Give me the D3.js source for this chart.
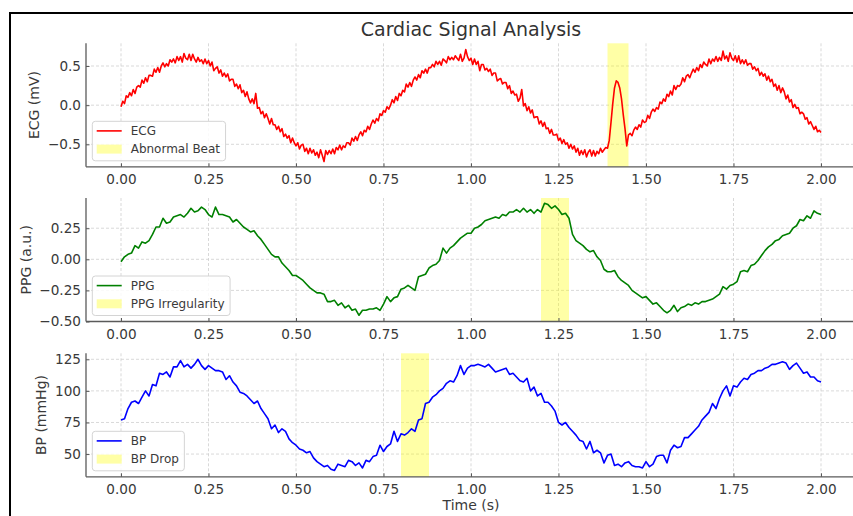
<!DOCTYPE html>
<html>
<head>
<meta charset="utf-8">
<script src="https://cdn.jsdelivr.net/npm/d3@7"></script>
<style>
  body { margin: 0; background: #fff; }
  svg { display: block; }
  text { font-family: "DejaVu Sans", sans-serif; }
</style>
</head>
<body>
<svg id="chart" width="853" height="516"></svg>
<script>
// ---- Data -------------------------------------------------------------
const ecgStep = 0.005;   // seconds between ECG samples
const ppgStep = 0.01;    // seconds between PPG samples
const bpStep = 0.01;     // seconds between BP samples

const ecgValues = [
  -0.02, 0.05, 0.02, 0.12, 0.10, 0.16, 0.12, 0.20, 0.15, 0.23,
  0.25, 0.23, 0.32, 0.28, 0.35, 0.30, 0.38, 0.38, 0.37, 0.46,
  0.42, 0.48, 0.42, 0.50, 0.54, 0.49, 0.53, 0.50, 0.58, 0.55,
  0.59, 0.54, 0.62, 0.57, 0.62, 0.55, 0.66, 0.60, 0.58, 0.65,
  0.57, 0.65, 0.59, 0.55, 0.61, 0.56, 0.58, 0.53, 0.59, 0.53,
  0.57, 0.50, 0.55, 0.44, 0.47, 0.49, 0.41, 0.45, 0.37, 0.41,
  0.36, 0.40, 0.31, 0.33, 0.33, 0.24, 0.27, 0.21, 0.26, 0.16,
  0.19, 0.11, 0.17, 0.08, 0.03, 0.08, 0.02, 0.15, -0.04, -0.03,
  -0.11, -0.08, -0.16, -0.11, -0.17, -0.24, -0.17, -0.25, -0.25, -0.31,
  -0.27, -0.34, -0.30, -0.40, -0.37, -0.42, -0.39, -0.48, -0.42, -0.48,
  -0.52, -0.48, -0.56, -0.51, -0.50, -0.59, -0.55, -0.62, -0.55, -0.61,
  -0.57, -0.64, -0.60, -0.67, -0.57, -0.64, -0.72, -0.58, -0.63, -0.58,
  -0.62, -0.56, -0.62, -0.54, -0.57, -0.51, -0.57, -0.52, -0.54, -0.48,
  -0.48, -0.51, -0.42, -0.46, -0.40, -0.45, -0.38, -0.34, -0.39, -0.32,
  -0.34, -0.27, -0.31, -0.24, -0.19, -0.23, -0.17, -0.20, -0.11, -0.13,
  -0.07, -0.09, -0.02, -0.05, 0.00, 0.07, 0.03, 0.11, 0.06, 0.15,
  0.12, 0.19, 0.17, 0.27, 0.23, 0.29, 0.24, 0.32, 0.36, 0.32,
  0.39, 0.35, 0.44, 0.41, 0.46, 0.41, 0.48, 0.48, 0.52, 0.49,
  0.56, 0.52, 0.56, 0.51, 0.59, 0.57, 0.54, 0.62, 0.58, 0.61,
  0.58, 0.63, 0.60, 0.57, 0.65, 0.56, 0.60, 0.71, 0.62, 0.57,
  0.60, 0.52, 0.59, 0.52, 0.56, 0.44, 0.52, 0.52, 0.45, 0.47,
  0.43, 0.46, 0.38, 0.41, 0.41, 0.31, 0.33, 0.34, 0.27, 0.29,
  0.29, 0.21, 0.25, 0.15, 0.18, 0.13, 0.14, 0.05, 0.09, 0.20,
  -0.01, 0.02, -0.07, -0.02, -0.10, -0.06, -0.16, -0.15, -0.15, -0.24,
  -0.20, -0.27, -0.22, -0.30, -0.29, -0.36, -0.31, -0.38, -0.38, -0.37,
  -0.45, -0.42, -0.49, -0.44, -0.50, -0.48, -0.55, -0.50, -0.56, -0.52,
  -0.60, -0.55, -0.64, -0.58, -0.63, -0.57, -0.66, -0.60, -0.57, -0.65,
  -0.58, -0.65, -0.59, -0.62, -0.55, -0.60, -0.57, -0.54, -0.55, -0.45,
  -0.22, 0.02, 0.22, 0.31, 0.29, 0.22, 0.08, -0.12, -0.30, -0.52,
  -0.38, -0.36, -0.39, -0.32, -0.28, -0.31, -0.25, -0.28, -0.19, -0.22,
  -0.21, -0.13, -0.17, -0.09, -0.05, -0.08, -0.03, -0.05, 0.04, 0.02,
  0.08, 0.05, 0.14, 0.11, 0.18, 0.13, 0.25, 0.20, 0.25, 0.24,
  0.27, 0.35, 0.30, 0.37, 0.39, 0.35, 0.41, 0.46, 0.42, 0.48,
  0.44, 0.52, 0.48, 0.55, 0.52, 0.50, 0.59, 0.53, 0.59, 0.56,
  0.62, 0.56, 0.61, 0.57, 0.69, 0.59, 0.63, 0.56, 0.67, 0.60,
  0.57, 0.63, 0.55, 0.63, 0.53, 0.58, 0.53, 0.58, 0.51, 0.53,
  0.53, 0.46, 0.49, 0.44, 0.47, 0.38, 0.42, 0.37, 0.40, 0.32,
  0.37, 0.30, 0.33, 0.24, 0.27, 0.19, 0.25, 0.16, 0.22, 0.17,
  0.08, 0.13, 0.04, 0.07, -0.03, 0.01, -0.04, -0.03, -0.11, -0.09,
  -0.11, -0.18, -0.16, -0.24, -0.21, -0.26, -0.31, -0.27, -0.34, -0.32,
  -0.35
];

const ppgValues = [
  -0.02, 0.02, 0.04, 0.05, 0.11, 0.09, 0.14, 0.13, 0.15, 0.20,
  0.26, 0.26, 0.33, 0.29, 0.30, 0.34, 0.35, 0.36, 0.34, 0.37,
  0.41, 0.38, 0.39, 0.42, 0.40, 0.36, 0.34, 0.42, 0.36, 0.36,
  0.35, 0.34, 0.30, 0.32, 0.29, 0.26, 0.24, 0.22, 0.23, 0.19,
  0.16, 0.12, 0.08, 0.04, 0.02, 0.02, -0.03, -0.06, -0.09, -0.13,
  -0.13, -0.15, -0.17, -0.20, -0.23, -0.25, -0.27, -0.27, -0.28, -0.34,
  -0.34, -0.33, -0.37, -0.35, -0.39, -0.37, -0.41, -0.40, -0.45, -0.41,
  -0.41, -0.40, -0.40, -0.39, -0.41, -0.36, -0.30, -0.34, -0.31, -0.30,
  -0.24, -0.23, -0.21, -0.23, -0.25, -0.14, -0.13, -0.12, -0.07, -0.05,
  -0.04, -0.01, 0.09, 0.05, 0.09, 0.11, 0.14, 0.17, 0.19, 0.21,
  0.21, 0.25, 0.26, 0.28, 0.31, 0.32, 0.33, 0.34, 0.33, 0.36,
  0.35, 0.38, 0.38, 0.40, 0.38, 0.41, 0.38, 0.40, 0.37, 0.40,
  0.38, 0.45, 0.44, 0.41, 0.43, 0.40, 0.36, 0.37, 0.33, 0.20,
  0.15, 0.13, 0.11, 0.08, 0.06, 0.07, 0.02, -0.01, -0.08, -0.10,
  -0.10, -0.09, -0.14, -0.17, -0.19, -0.21, -0.25, -0.27, -0.29, -0.31,
  -0.30, -0.33, -0.36, -0.35, -0.38, -0.41, -0.43, -0.41, -0.37, -0.42,
  -0.39, -0.38, -0.36, -0.37, -0.35, -0.36, -0.34, -0.34, -0.33, -0.32,
  -0.30, -0.28, -0.22, -0.24, -0.21, -0.20, -0.18, -0.10, -0.09, -0.10,
  -0.05, -0.04, -0.01, 0.03, 0.07, 0.10, 0.12, 0.15, 0.16, 0.19,
  0.20, 0.21, 0.25, 0.27, 0.32, 0.31, 0.35, 0.33, 0.39, 0.37,
  0.36
];

const bpValues = [
  77, 78, 86, 91, 92, 90, 95, 100, 96, 105,
  104, 114, 113, 115, 111, 119, 119, 124, 119, 121,
  118, 121, 125, 120, 117, 120, 118, 116, 116, 115,
  109, 112, 107, 104, 99, 98, 96, 93, 90, 92,
  86, 82, 78, 70, 73, 67, 70, 68, 62, 59,
  57, 54, 53, 51, 52, 47, 44, 42, 40, 41,
  38, 37, 42, 41, 40, 45, 44, 41, 43, 39,
  45, 44, 48, 49, 57, 52, 56, 58, 68, 60,
  66, 65, 67, 70, 68, 77, 78, 90, 91, 95,
  97, 100, 102, 106, 108, 107, 112, 120, 113, 118,
  120, 120, 121, 120, 119, 121, 118, 115, 116, 117,
  118, 113, 114, 111, 108, 107, 110, 100, 103, 96,
  98, 91, 91, 88, 84, 75, 73, 75, 71, 68,
  65, 61, 60, 54, 60, 51, 53, 51, 43, 49,
  50, 41, 42, 40, 43, 44, 41, 40, 40, 39,
  44, 40, 42, 48, 49, 49, 43, 53, 57, 55,
  56, 63, 63, 66, 69, 72, 77, 80, 83, 90,
  86, 94, 100, 104, 96, 104, 103, 107, 110, 109,
  113, 114, 116, 116, 118, 119, 121, 121, 122, 123,
  122, 117, 120, 122, 118, 114, 115, 111, 111, 108,
  107
];

const timeTicks = [0, 0.25, 0.5, 0.75, 1, 1.25, 1.5, 1.75, 2];
const ecgTicks = [-0.5, 0, 0.5];
const ppgTicks = [-0.5, -0.25, 0, 0.25];
const bpTicks = [50, 75, 100, 125];

const ecgSpan = [1.39, 1.45];
const ppgSpan = [1.2, 1.28];
const bpSpan = [0.8, 0.88];

// ---- Layout -------------------------------------------------------------
const svg = d3.select("#chart");
const W = 853, H = 516;
const plotLeft = 86, plotRight = 856;
const panelHeight = 123.5;

svg.append("rect").attr("width", W).attr("height", H).attr("fill", "#fff");

const x = d3.scaleLinear().domain([-0.1, 2.1]).range([plotLeft, plotRight]);

const minus = s => s.replace("-", "\u2212");

const panels = [
  { top: 43.3, values: ecgValues, step: ecgStep, color: "#ff0000",
    domain: [-0.787, 0.79], ticks: ecgTicks, fmt: d => minus(d3.format(".1f")(d)),
    ylabel: "ECG (mV)", name: "ECG", span: ecgSpan, spanName: "Abnormal Beat" },
  { top: 198, values: ppgValues, step: ppgStep, color: "#008000",
    domain: [-0.5, 0.493], ticks: ppgTicks, fmt: d => minus(d3.format(".2f")(d)),
    ylabel: "PPG (a.u.)", name: "PPG", span: ppgSpan, spanName: "PPG Irregularity" },
  { top: 353.3, values: bpValues, step: bpStep, color: "#0000ff",
    domain: [32, 129.75], ticks: bpTicks, fmt: d => d3.format("d")(d),
    ylabel: "BP (mmHg)", name: "BP", span: bpSpan, spanName: "BP Drop" }
];

const tickColor = "#3a3a3a";
const spineColor = "#5a5a5a";
const gridColor = "#cfcfcf";

panels.forEach((p, idx) => {
  const bottom = p.top + panelHeight;
  const y = d3.scaleLinear().domain(p.domain).range([bottom, p.top]);
  const g = svg.append("g");

  // grid
  g.selectAll(".gx").data(timeTicks).join("line")
    .attr("x1", d => x(d)).attr("x2", d => x(d))
    .attr("y1", p.top).attr("y2", bottom)
    .attr("stroke", gridColor).attr("stroke-width", 0.8)
    .attr("stroke-dasharray", "3,2");
  g.selectAll(".gy").data(p.ticks).join("line")
    .attr("x1", plotLeft).attr("x2", plotRight)
    .attr("y1", d => y(d)).attr("y2", d => y(d))
    .attr("stroke", gridColor).attr("stroke-width", 0.8)
    .attr("stroke-dasharray", "3,2");

  // highlighted interval
  g.append("rect")
    .attr("x", x(p.span[0])).attr("width", x(p.span[1]) - x(p.span[0]))
    .attr("y", p.top).attr("height", panelHeight)
    .attr("fill", "#ffff00").attr("fill-opacity", 0.35);

  // signal
  const line = d3.line()
    .x((d, i) => x(i * p.step))
    .y(d => y(d));
  g.append("path").datum(p.values)
    .attr("d", line)
    .attr("fill", "none")
    .attr("stroke", p.color)
    .attr("stroke-width", 1.6)
    .attr("stroke-linejoin", "round");

  // axes with inward ticks
  const xAxis = d3.axisBottom(x).tickValues(timeTicks)
    .tickFormat(d => d3.format(".2f")(d))
    .tickSizeInner(-3.5).tickSizeOuter(0).tickPadding(7.5);
  const xa = g.append("g").attr("transform", `translate(0,${bottom})`).call(xAxis);
  const yAxis = d3.axisLeft(y).tickValues(p.ticks).tickFormat(p.fmt)
    .tickSizeInner(-3.5).tickSizeOuter(0).tickPadding(5);
  const ya = g.append("g").attr("transform", `translate(${plotLeft},0)`).call(yAxis);

  [xa, ya].forEach(a => {
    a.select(".domain").attr("stroke", spineColor).attr("stroke-width", 1.3);
    a.selectAll(".tick line").attr("stroke", spineColor).attr("stroke-width", 1);
    a.selectAll(".tick text").attr("fill", tickColor)
      .style("font-family", "DejaVu Sans").style("font-size", "13.6px");
  });
  ya.select(".domain").attr("d", `M0,${bottom}V${p.top}`);
  xa.select(".domain").attr("d", `M${plotLeft},0H${plotRight}`);

  // y label placed left of the widest tick label
  let minLeft = plotLeft;
  ya.selectAll(".tick text").each(function () {
    const b = this.getBBox();
    const m = this.parentNode.transform.baseVal.consolidate();
    const tx = m ? m.matrix.e : 0;
    minLeft = Math.min(minLeft, plotLeft + tx + b.x);
  });
  g.append("text")
    .attr("transform", `translate(${minLeft - 13.5},${p.top + panelHeight / 2}) rotate(-90)`)
    .attr("text-anchor", "middle")
    .attr("dy", "0.35em")
    .attr("fill", tickColor)
    .style("font-size", "14px")
    .text(p.ylabel);

  // legend
  const lg = g.append("g");
  const boxX = plotLeft + 6.3, boxH = 39.5, boxY = bottom - 6 - boxH;
  const box = lg.append("rect")
    .attr("x", boxX).attr("y", boxY).attr("height", boxH)
    .attr("rx", 3).attr("fill", "#fff").attr("fill-opacity", 0.85)
    .attr("stroke", "#d4d4d4").attr("stroke-width", 1);
  lg.append("line")
    .attr("x1", boxX + 4.4).attr("x2", boxX + 29.4)
    .attr("y1", boxY + 9.6).attr("y2", boxY + 9.6)
    .attr("stroke", p.color).attr("stroke-width", 1.6);
  lg.append("rect")
    .attr("x", boxX + 4.4).attr("width", 25)
    .attr("y", boxY + 23.3).attr("height", 9)
    .attr("fill", "#ffff00").attr("fill-opacity", 0.35);
  const t1 = lg.append("text").attr("x", boxX + 38.4).attr("y", boxY + 9.6)
    .attr("dy", "0.36em").attr("fill", tickColor).style("font-size", "12px").text(p.name);
  const t2 = lg.append("text").attr("x", boxX + 38.4).attr("y", boxY + 27.8)
    .attr("dy", "0.36em").attr("fill", tickColor).style("font-size", "12px").text(p.spanName);
  const tw = Math.max(t1.node().getComputedTextLength(), t2.node().getComputedTextLength());
  box.attr("width", 38.4 + tw + 5.5);
});

// title and shared x label
svg.append("text")
  .attr("x", (plotLeft + plotRight) / 2).attr("y", 36)
  .attr("text-anchor", "middle").attr("fill", "#333")
  .style("font-size", "19px")
  .text("Cardiac Signal Analysis");

svg.append("text")
  .attr("x", (plotLeft + plotRight) / 2).attr("y", 510)
  .attr("text-anchor", "middle").attr("fill", tickColor)
  .style("font-size", "14px")
  .text("Time (s)");

// figure frame
svg.append("rect")
  .attr("x", 10).attr("y", 13).attr("width", 900).attr("height", 600)
  .attr("fill", "none").attr("stroke", "#000").attr("stroke-width", 2);
</script>
</body>
</html>
